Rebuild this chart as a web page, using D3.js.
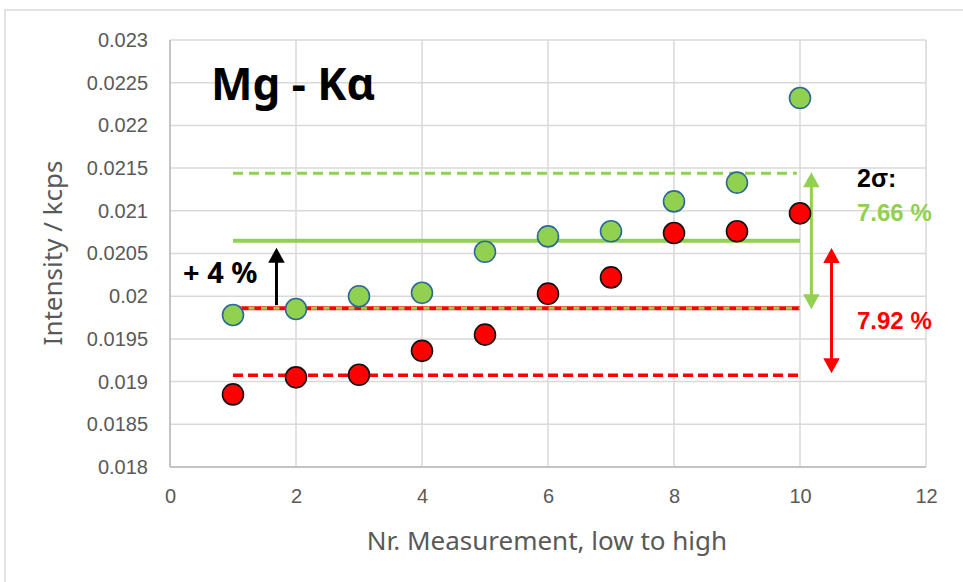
<!DOCTYPE html>
<html>
<head>
<meta charset="utf-8">
<script src="https://cdn.jsdelivr.net/npm/d3@7"></script>
<style>
  html, body { margin: 0; padding: 0; background: #fff; }
  svg { display: block; }
</style>
</head>
<body>
<svg id="chart" width="963" height="582"></svg>
<script>
// Measurement index (sorted low to high)
const measurements = [1, 2, 3, 4, 5, 6, 7, 8, 9, 10];
// Intensities in kcps
const greenSeries = [0.01978, 0.01985, 0.02000, 0.02004, 0.02052, 0.02070, 0.02076, 0.02111, 0.02133, 0.02232];
const redSeries   = [0.01885, 0.01905, 0.01908, 0.01936, 0.01955, 0.02003, 0.02022, 0.02074, 0.02076, 0.02097];
// Means and 2-sigma spreads (full band width, % of mean)
const seriesMeans = [0.02065, 0.01986];
const twoSigmaPct = [7.66, 7.92];
// Axis ticks
const xTicks = [0, 2, 4, 6, 8, 10, 12];
const yTicks = [0.018, 0.0185, 0.019, 0.0195, 0.02, 0.0205, 0.021, 0.0215, 0.022, 0.0225, 0.023];
const yTickLabels = ["0.018", "0.0185", "0.019", "0.0195", "0.02", "0.0205", "0.021", "0.0215", "0.022", "0.0225", "0.023"];

const GREEN = "#92d050", RED = "#ff0000", GRID = "#d9d9d9", TXT = "#595959";

const svg = d3.select("#chart");
const x = d3.scaleLinear().domain([0, 12]).range([170, 926]);
const y = d3.scaleLinear().domain([0.018, 0.023]).range([467, 40]);

// outer chart frame
svg.append("rect").attr("x", 5).attr("y", 10).attr("width", 980).attr("height", 600)
  .attr("fill", "#fff").attr("stroke", GRID).attr("stroke-width", 1.5);

// gridlines
const grid = svg.append("g");
grid.selectAll("line.h").data(yTicks).join("line")
  .attr("x1", x(0)).attr("x2", x(12))
  .attr("y1", d => y(d)).attr("y2", d => y(d))
  .attr("stroke", GRID).attr("stroke-width", 1.5);
grid.selectAll("line.v").data(xTicks).join("line")
  .attr("x1", d => x(d)).attr("x2", d => x(d))
  .attr("y1", y(0.018)).attr("y2", y(0.023))
  .attr("stroke", GRID).attr("stroke-width", 1.5);
// axis lines
svg.append("line").attr("x1", x(0)).attr("x2", x(0)).attr("y1", y(0.023)).attr("y2", y(0.018))
  .attr("stroke", "#c4c4c4").attr("stroke-width", 2);
svg.append("line").attr("x1", x(0)).attr("x2", x(12)).attr("y1", y(0.018)).attr("y2", y(0.018))
  .attr("stroke", "#c4c4c4").attr("stroke-width", 2);

// tick labels via d3 axes
const yAxis = d3.axisLeft(y).tickValues(yTicks).tickFormat((d, i) => yTickLabels[i]).tickSize(0).tickPadding(22);
const gy = svg.append("g").attr("transform", `translate(${x(0)},0)`).call(yAxis);
gy.select(".domain").remove();
gy.selectAll("text").attr("fill", TXT).style("font-family", "'Liberation Sans', Arial, sans-serif").style("font-size", "20px");

const xAxis = d3.axisBottom(x).tickValues(xTicks).tickFormat(d3.format("d")).tickSize(0).tickPadding(22);
const gx = svg.append("g").attr("transform", `translate(0,${y(0.018)})`).call(xAxis);
gx.select(".domain").remove();
gx.selectAll("text").attr("fill", TXT).style("font-family", "'Liberation Sans', Arial, sans-serif").style("font-size", "20px");

// axis titles
svg.append("text").attr("x", (x(0) + x(12)) / 2 - 1).attr("y", 550)
  .attr("text-anchor", "middle").attr("fill", TXT)
  .style("font-family", "'Noto Sans', sans-serif").style("font-size", "26px")
  .text("Nr. Measurement, low to high");
svg.append("text").attr("transform", "translate(62,253) rotate(-90)")
  .attr("text-anchor", "middle").attr("fill", TXT)
  .style("font-family", "'Noto Sans', sans-serif").style("font-size", "26px")
  .text("Intensity / kcps");

// title
svg.append("text").attr("x", 211).attr("y", 100)
  .style("font-family", "'Noto Sans', sans-serif").style("font-weight", 700).style("font-size", "44px")
  .attr("fill", "#000").text("Mg - Kα");

// band lines
const xStart = measurements[0], xEnd = measurements[measurements.length - 1];
const bounds = seriesMeans.map((m, i) => [m * (1 - twoSigmaPct[i] / 200), m * (1 + twoSigmaPct[i] / 200)]);
const hline = (v, color, w, dash, x0 = xStart, x1 = xEnd) =>
  svg.append("line").attr("x1", x(x0)).attr("x2", x(x1)).attr("y1", y(v)).attr("y2", y(v))
    .attr("stroke", color).attr("stroke-width", w).attr("stroke-dasharray", dash);

hline(seriesMeans[1], RED, 4, null);
hline(bounds[1][0], RED, 3.5, "10,5");
hline(bounds[0][0], GREEN, 3, "6,6.5").attr("stroke-dashoffset", -3);
hline(bounds[0][1], GREEN, 3, "10,6", xStart, 9.95);
hline(seriesMeans[0], GREEN, 4, null);

// arrow helper
function arrowHead(px, py, dir, color, size) {
  const h = size, w = size * 0.55;
  svg.append("path")
    .attr("d", `M${px},${py} L${px - w},${py - dir * h} L${px + w},${py - dir * h} Z`)
    .attr("fill", color);
}
function vArrow(xv, yTop, yBot, color, both) {
  const px = x(xv);
  svg.append("line").attr("x1", px).attr("x2", px)
    .attr("y1", yTop + 10).attr("y2", both ? yBot - 10 : yBot)
    .attr("stroke", color).attr("stroke-width", 3);
  arrowHead(px, yTop, -1, color, 15);
  if (both) arrowHead(px, yBot, 1, color, 15);
}
// 2-sigma spread arrows
vArrow(10.18, y(bounds[0][1]) - 1, y(bounds[0][0]) + 1, GREEN, true);
vArrow(10.5, y(bounds[1][1]) + 7, y(bounds[1][0]) - 2, RED, true);
// offset between means
vArrow(1.69, y(seriesMeans[0]) + 7, y(seriesMeans[1]) - 3, "#000", false);

// markers
svg.append("g").selectAll("circle").data(redSeries).join("circle")
  .attr("cx", (d, i) => x(measurements[i])).attr("cy", d => y(d)).attr("r", 10.5)
  .attr("fill", RED).attr("stroke", "#111").attr("stroke-width", 1.6);
svg.append("g").selectAll("circle").data(greenSeries).join("circle")
  .attr("cx", (d, i) => x(measurements[i])).attr("cy", d => y(d)).attr("r", 10.5)
  .attr("fill", GREEN).attr("stroke", "#2b6a94").attr("stroke-width", 1.6);

// annotations
const offsetPct = Math.round((seriesMeans[0] / seriesMeans[1] - 1) * 100);
svg.append("text").attr("x", 183).attr("y", 283)
  .style("font-family", "'Noto Sans', sans-serif").style("font-weight", 700).style("font-size", "29px")
  .attr("fill", "#000").text(`+ ${offsetPct} %`);
const annoFont = "'Liberation Sans', Arial, sans-serif";
svg.append("text").attr("x", 857).attr("y", 187)
  .style("font-family", annoFont).style("font-weight", 700).style("font-size", "25px")
  .attr("fill", "#000").text("2σ:");
svg.append("text").attr("x", 857).attr("y", 221)
  .style("font-family", annoFont).style("font-weight", 700).style("font-size", "24px")
  .attr("fill", GREEN).text(`${twoSigmaPct[0].toFixed(2)} %`);
svg.append("text").attr("x", 857).attr("y", 329)
  .style("font-family", annoFont).style("font-weight", 700).style("font-size", "24px")
  .attr("fill", RED).text(`${twoSigmaPct[1].toFixed(2)} %`);
</script>
</body>
</html>
